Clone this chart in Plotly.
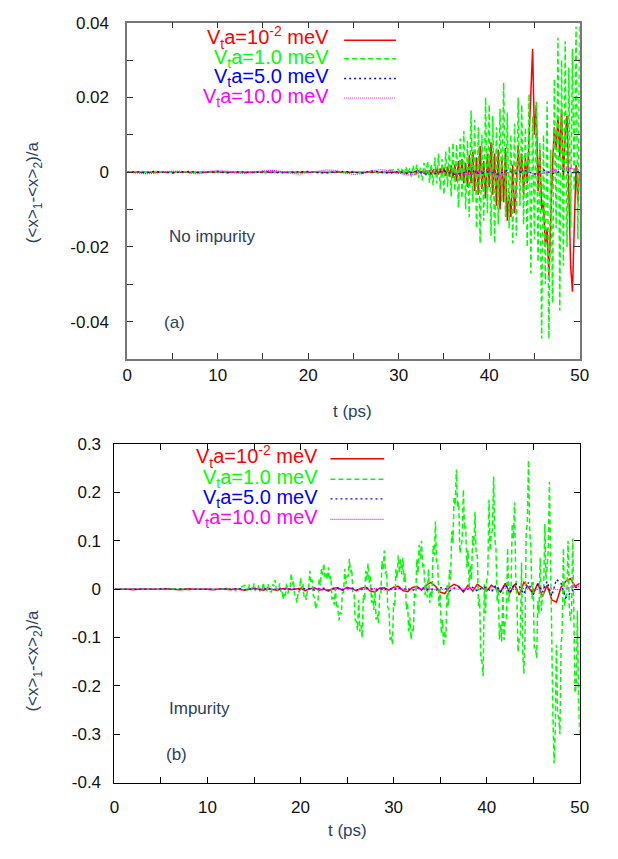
import numpy as np
import plotly.graph_objects as go

W, H = 618, 859
FONT = "Liberation Sans, Arial, sans-serif"

# ---------------- panel (a): no impurity ----------------
t_a_quiet = np.arange(0, 30, 1.0)                      # 0 .. 29 ps
t_a_active = np.round(np.arange(30, 50.001, 0.2), 2)    # 30 .. 50 ps
t_a_coarse = np.arange(0, 51, 1.0)                      # 0 .. 50 ps

red_a_quiet = [0, 0, 0.0001, 0, -0.0001, 0, 0.0001, 0, 0, -0.0001,
               0, 0.0001, 0, 0, -0.0001, 0, 0.0001, 0, 0, 0.0001,
               0, -0.0001, 0, 0.0001, 0, -0.0001, 0.0001, 0, -0.0001, 0.0001]
red_a_active = [0, 0.0001, -0.0001, 0.0001, 0, -0.0002, 0.0001, 0, -0.0001, 0.0002,
                -0.0002, 0.0003, -0.0001, 0.0002, -0.0003, 0.0004, -0.0002, 0.0003, -0.0004, 0.0005,
                -0.0005, 0.0008, -0.0006, 0.0010, -0.0008, 0.0012, -0.0010, 0.0015, -0.0012, 0.0018,
                -0.0015, 0.0020, -0.0025, 0.0030, -0.0020, 0.0035, -0.0030, 0.0025, -0.0040, 0.0045,
                -0.0030, 0.0055, -0.0050, 0.0040, -0.0060, 0.0070, -0.0045, 0.0030, -0.0070, 0.0050,
                -0.0040, 0.0080, -0.0060, 0.0050, -0.0090, 0.0060, -0.0100, 0.0040, -0.0080, 0.0065,
                -0.0130, -0.0060, -0.0120, 0.0020, -0.0110, -0.0040, 0.0070, -0.0020, 0.0050, -0.0060,
                0.0040, -0.0030, 0.0080, 0.0200, 0.0330, 0.0100, 0.0180, -0.0050, 0.0060, -0.0100,
                -0.0080, -0.0200, -0.0150, -0.0280, -0.0100, 0.0020, 0.0120, 0.0060, 0.0150, 0.0040,
                0.0170, -0.0020, 0.0100, 0.0150, -0.0050, -0.0250, -0.0320, -0.0150, 0.0020, -0.0080,
                0.0000]

green_a_quiet = [0, 0.0001, -0.0001, 0.0001, 0, -0.0001, 0.0001, 0, -0.0001, 0.0001,
                 0, 0.0001, -0.0001, 0, 0.0001, -0.0001, 0, 0.0001, 0, -0.0001,
                 0.0001, 0, -0.0002, 0.0002, -0.0001, 0.0002, -0.0003, 0.0003, -0.0004, 0.0005]
green_a_active = [0.0008, -0.0006, 0.0012, -0.0009, 0.0015, -0.0004, 0.0010, -0.0012, 0.0018, -0.0008,
                  0.0020, -0.0015, 0.0012, -0.0022, 0.0025, -0.0010, 0.0030, -0.0028, 0.0022, -0.0035,
                  0.0040, -0.0030, 0.0050, -0.0045, 0.0035, -0.0060, 0.0055, -0.0040, 0.0070, -0.0065,
                  0.0080, -0.0050, 0.0075, -0.0095, 0.0090, -0.0070, 0.0110, -0.0100, 0.0085, -0.0120,
                  0.0165, -0.0080, 0.0140, -0.0150, 0.0120, -0.0190, 0.0100, -0.0130, 0.0200, -0.0110,
                  0.0180, -0.0170, 0.0150, -0.0190, 0.0120, -0.0140, 0.0170, -0.0080, 0.0240, -0.0120,
                  0.0160, -0.0150, 0.0100, -0.0190, 0.0130, -0.0170, 0.0200, -0.0090, 0.0180, -0.0140,
                  0.0120, -0.0200, 0.0210, -0.0270, 0.0150, -0.0180, 0.0190, -0.0240, 0.0080, -0.0445,
                  0.0100, -0.0300, 0.0190, -0.0445, 0.0060, -0.0350, 0.0250, -0.0150, 0.0360, -0.0370,
                  0.0300, -0.0250, 0.0350, -0.0200, 0.0280, -0.0150, 0.0330, -0.0050, 0.0390, -0.0180,
                  0.0400]

blue_a = [0, 0.0001, -0.0001, 0.0002, 0, -0.0002, 0.0001, 0.0002, -0.0001, 0,
          0.0002, -0.0002, 0.0001, 0, -0.0001, 0.0002, 0.0001, -0.0002, 0, 0.0001,
          0.0002, -0.0001, -0.0002, 0.0001, 0.0002, 0, -0.0002, 0.0003, 0.0001, -0.0003,
          0.0002, -0.0004, 0.0003, -0.0005, -0.0004, 0.0004, -0.0006, -0.0003, 0.0005, -0.0004,
          0.0002, -0.0006, 0.0005, -0.0003, 0.0004, -0.0005, 0.0006, -0.0004, 0.0003, -0.0002,
          0.0002]

magenta_a = [0, -0.0002, -0.0004, -0.0003, 0.0001, 0.0003, 0.0002, -0.0003, -0.0004, 0.0002,
             0.0004, 0.0003, -0.0002, -0.0004, 0.0001, 0.0004, 0.0005, 0.0002, -0.0003, -0.0005,
             -0.0002, 0.0003, 0.0006, 0.0005, -0.0002, -0.0006, -0.0004, 0.0003, 0.0007, 0.0004,
             -0.0003, -0.0007, -0.0005, 0.0002, 0.0008, 0.0006, -0.0002, -0.0008, -0.0006, 0.0001,
             0.0004, -0.0012, -0.0002, 0.0006, 0.0002, -0.0005, -0.0003, 0.0004, 0.0008, 0.0010,
             0.0006]

# ---------------- panel (b): impurity ----------------
t_b_quiet = np.arange(0, 14, 1.0)                        # 0 .. 13 ps
t_b_active = np.round(np.arange(14, 50.001, 0.125), 3)   # 14 .. 50 ps
t_b_half = np.round(np.arange(0, 50.001, 0.5), 2)        # 0 .. 50 ps
t_b_coarse = np.arange(0, 51, 1.0)

green_b_quiet = [0, 0.0005, -0.0005, 0.001, 0, -0.001, 0.0005, 0.001, -0.001, 0.0005,
                 0.001, -0.0015, 0.002, -0.002]
# one row per ps, eight samples per row
green_b_active = [
    0.008, -0.0035, 0.001, -0.0025, 0.010, -0.002, 0.002, -0.001,
    0.012, -0.002, 0.000, -0.0035, 0.009, -0.0045, -0.002, -0.002,
    0.014, -0.0015, -0.001, -0.003, 0.011, -0.005, -0.005, -0.0055,
    0.010, 0.0065, 0.019, 0.0015, 0.000, -0.002, 0.012, -0.005,
    -0.002, -0.021, -0.008, -0.0135, 0.013, -0.0095, 0.000, 0.0005,
    0.033, 0.0095, 0.018, -0.0165, -0.019, -0.0275, -0.004, -0.0065,
    0.023, 0.0015, 0.012, -0.016, -0.012, -0.022, 0.000, 0.003,
    0.038, 0.013, 0.020, -0.0145, -0.017, -0.0405, -0.032, -0.023,
    0.022, 0.008, 0.042, 0.0295, 0.053, 0.025, 0.032, 0.020,
    0.045, 0.018, 0.027, -0.0195, -0.018, -0.032, 0.002, -0.0395,
    -0.033, -0.0645, -0.048, -0.052, -0.008, -0.007, 0.042, 0.0105,
    0.027, 0.027, 0.063, 0.0345, 0.042, -0.007, -0.008, -0.0645,
    -0.067, -0.085, -0.022, -0.088, -0.075, -0.100, -0.012, -0.023,
    0.038, 0.0185, 0.053, 0.0135, 0.028, -0.028, -0.012, -0.043,
    -0.002, -0.063, -0.052, -0.070, -0.012, -0.013, 0.058, 0.042,
    0.080, 0.032, 0.038, -0.038, -0.042, -0.105, -0.096, -0.114,
    -0.028, -0.037, 0.042, 0.023, 0.070, 0.033, 0.062, 0.0305,
    0.065, 0.0155, 0.032, -0.042, -0.028, -0.087, -0.058, -0.104,
    -0.082, -0.089, -0.008, -0.017, 0.062, 0.033, 0.092, 0.063,
    0.100, 0.043, 0.052, -0.012, 0.012, -0.017, 0.042, -0.0285,
    -0.003, -0.0165, 0.090, 0.070, 0.140, 0.050, 0.050, -0.035,
    0.000, -0.092, -0.064, -0.118, -0.088, -0.099, 0.010, -0.035,
    0.040, 0.020, 0.120, 0.095, 0.190, 0.1735, 0.247, 0.1685,
    0.180, 0.075, 0.090, 0.103, 0.206, 0.123, 0.130, 0.045,
    0.080, 0.005, 0.050, 0.020, 0.110, 0.090, 0.160, 0.070,
    0.070, -0.035, -0.020, -0.145, -0.150, -0.180, 0.010, -0.050,
    0.015, 0.030, 0.185, 0.080, 0.115, 0.1215, 0.233, 0.1065,
    0.085, -0.025, 0.005, -0.104, -0.073, -0.108, -0.005, -0.105,
    -0.065, -0.060, 0.085, -0.025, 0.005, 0.000, 0.135, 0.105,
    0.180, 0.030, -0.015, -0.130, -0.105, -0.095, 0.055, -0.130,
    -0.175, -0.100, 0.115, 0.138, 0.267, 0.123, 0.085, -0.020,
    0.015, -0.122, -0.120, -0.142, -0.025, -0.050, 0.065, -0.045,
    -0.015, -0.010, 0.135, 0.020, 0.045, 0.081, 0.222, 0.026,
    -0.065, -0.265, -0.360, -0.290, -0.115, -0.260, -0.265, -0.300,
    -0.115, -0.085, 0.085, -0.035, -0.015, -0.010, 0.100, -0.035,
    -0.065, -0.050, 0.105, -0.125, -0.215, -0.200, -0.045, -0.225,
    -0.300]

red_b = [0, 0, 0.001, 0, -0.001, 0, 0.001, 0, 0, -0.001,
         0, 0.001, 0, 0, -0.001, 0, 0.001, 0, 0, 0.001,
         0, -0.001, 0, 0.001, 0, -0.001, 0.001, 0, -0.002, 0,
         0.002, 0, -0.002, 0.001, 0, -0.002, 0.001, 0.002, -0.001, 0,
         0.002, -0.003, 0.001, 0.003, -0.002, 0, -0.004, 0.002, 0.003, -0.002,
         0.004, 0.001, -0.003, 0.002, 0.004, -0.004, -0.006, 0.002, 0.003, -0.002,
         0.004, 0.006, -0.003, -0.005, 0.003, 0.006, -0.002, 0.008, 0.014, 0.006,
         -0.006, -0.009, 0.004, 0.010, 0.006, -0.006, 0.008, -0.004, 0.010, 0.003,
         -0.004, 0.008, 0.002, -0.006, 0.012, -0.008, 0.010, -0.012, 0.014, 0.004,
         -0.010, 0.012, -0.015, 0.008, -0.022, -0.027, 0.004, 0.016, 0.022, 0.006,
         0.012]

blue_b = [0, 0.0005, 0, -0.0005, 0.0005, 0, -0.0005, 0, 0.0005, -0.0005,
          0, 0.0005, -0.0005, 0, 0.0005, 0, -0.0005, 0.0005, 0, -0.0005,
          0.0005, 0, -0.001, 0.0005, 0.001, -0.0005, 0, 0.001, -0.001, 0.0005,
          0.001, -0.001, 0, 0.0015, -0.001, 0.0005, 0.001, -0.0015, 0.001, 0,
          -0.001, 0.0015, 0.001, -0.002, 0.001, 0.002, -0.0015, 0, 0.002, -0.002,
          0.001, 0.002, -0.001, -0.002, 0.0025, 0.001, -0.002, 0.002, -0.001, 0.0015,
          -0.002, 0.003, -0.001, 0.002, -0.003, 0.002, 0.003, -0.002, 0.001, -0.003,
          0.003, 0.002, -0.004, 0.002, 0.004, -0.003, 0.001, 0.004, -0.004, 0.003,
          0.004, -0.006, 0.008, -0.005, 0.010, -0.008, 0.012, 0.006, -0.010, 0.014,
          -0.012, 0.010, -0.006, 0.016, -0.014, 0.020, 0.012, -0.018, -0.008, 0.004,
          0.002]

magenta_b = [0, 0.0005, -0.0005, 0.001, 0, -0.0005, 0.0005, 0, -0.001, 0.0005,
             0.001, -0.0005, 0, 0.0005, -0.001, 0.0005, 0.001, -0.0005, 0, 0.001,
             -0.001, 0.0005, 0.001, -0.001, 0, 0.0015, -0.001, 0.0005, 0.001, -0.0015,
             0.001, 0, -0.001, 0.0015, 0.0005, -0.001, 0.001, -0.0005, 0.0015, -0.001,
             0.001, -0.0015, 0.002, -0.001, 0.0015, -0.002, 0.001, 0.0005, -0.002, 0.004,
             0.006]

legend_labels = ["V<sub>t</sub>a=10<sup>-2</sup> meV", "V<sub>t</sub>a=1.0 meV",
                 "V<sub>t</sub>a=5.0 meV", "V<sub>t</sub>a=10.0 meV"]
colors = ["#ff0000", "#00ff00", "#0000ff", "#ff00ff"]
dashes = ["solid", "5px,3px", "2px,3px", "1px,1px"]
widths = [1.5, 1.5, 1.4, 1.2]


def px(x):
    return x / W


def py(y):
    return 1 - y / H


fig = go.Figure()

series_a = [
    (np.concatenate([t_a_quiet, t_a_active]), red_a_quiet + red_a_active),
    (np.concatenate([t_a_quiet, t_a_active]), green_a_quiet + green_a_active),
    (t_a_coarse, blue_a),
    (t_a_coarse, magenta_a),
]
series_b = [
    (t_b_half, red_b),
    (np.concatenate([t_b_quiet, t_b_active]), green_b_quiet + green_b_active),
    (t_b_half, blue_b),
    (t_b_coarse, magenta_b),
]

for i, (t, v) in enumerate(series_a):
    fig.add_trace(go.Scatter(x=t, y=v, mode="lines", xaxis="x", yaxis="y", showlegend=False,
                             line=dict(color=colors[i], dash=dashes[i], width=widths[i])))
for i, (t, v) in enumerate(series_b):
    fig.add_trace(go.Scatter(x=t, y=v, mode="lines", xaxis="x2", yaxis="y2", showlegend=False,
                             line=dict(color=colors[i], dash=dashes[i], width=widths[i])))

x_ticks = list(range(0, 51, 5))
x_text = [str(v) if v % 10 == 0 else "" for v in x_ticks]

ya_ticks = [-0.05, -0.04, -0.03, -0.02, -0.01, 0, 0.01, 0.02, 0.03, 0.04]
ya_text = ["", "-0.04", "", "-0.02", "", "0", "", "0.02", "", "0.04"]
yb_ticks = [-0.4, -0.3, -0.2, -0.1, 0, 0.1, 0.2, 0.3]
yb_text = ["-0.4", "-0.3", "-0.2", "-0.1", "0", "0.1", "0.2", "0.3"]

axis_common = dict(showgrid=False, zeroline=False, showline=True, mirror="ticks",
                   ticks="inside", ticklen=6, tickfont=dict(family=FONT, size=17, color="#111"))

fig.update_layout(
    width=W, height=H,
    margin=dict(l=0, r=0, t=0, b=0),
    paper_bgcolor="white", plot_bgcolor="white",
    xaxis=dict(domain=[px(125), px(588)], range=[0, 50], anchor="y",
               tickvals=x_ticks, ticktext=x_text, linecolor="#777", linewidth=1.5,
               tickcolor="#333", ticklabelstandoff=0, **axis_common),
    yaxis=dict(domain=[py(358), py(14)], range=[-0.05, 0.04], anchor="x",
               tickvals=ya_ticks, ticktext=ya_text, linecolor="#777", linewidth=1.5,
               tickcolor="#333", ticklabelstandoff=13, **axis_common),
    xaxis2=dict(domain=[px(112), px(588)], range=[0, 50], anchor="y2",
                tickvals=x_ticks, ticktext=x_text, linecolor="#000", linewidth=1,
                tickcolor="#000", ticklabelstandoff=9, **axis_common),
    yaxis2=dict(domain=[py(791), py(445)], range=[-0.4, 0.3], anchor="x2",
                tickvals=yb_ticks, ticktext=yb_text, linecolor="#000", linewidth=1,
                tickcolor="#000", ticklabelstandoff=9, **axis_common),
)

annotations = []
ytitle = "(&lt;x&gt;<sub>1</sub>-&lt;x&gt;<sub>2</sub>)/a"
for yc in (187, 666):
    annotations.append(dict(x=px(30), y=py(yc), xref="paper", yref="paper", text=ytitle,
                            textangle=-90, xanchor="center", yanchor="middle",
                            showarrow=False, font=dict(family=FONT, size=17)))
for xc, yc in ((356, 412), (350, 840)):
    annotations.append(dict(x=px(xc), y=py(yc), xref="paper", yref="paper", text="t (ps)",
                            xanchor="center", yanchor="middle",
                            showarrow=False, font=dict(family=FONT, size=17)))
for txt, x0, yc in (("No impurity", 166, 233), ("(a)", 161, 321),
                    ("Impurity", 166, 715), ("(b)", 163, 762)):
    annotations.append(dict(x=px(x0), y=py(yc), xref="paper", yref="paper", text=txt,
                            xanchor="left", yanchor="middle",
                            showarrow=False, font=dict(family=FONT, size=17)))

# key: right-aligned text followed by a line sample, as in gnuplot
# rows given by text baseline; every label has a subscript so bottom-anchoring keeps baselines aligned
shapes = []
for rows, text_right, lx0, lx1 in (((37, 56, 76, 96), 333, 347, 400),
                                   ((465, 486, 506, 527), 321, 333, 388)):
    for i, base in enumerate(rows):
        annotations.append(dict(x=px(text_right), y=py(base + 8), xref="paper", yref="paper",
                                text=legend_labels[i], xanchor="right", yanchor="bottom",
                                showarrow=False, borderpad=0,
                                font=dict(family=FONT, size=20, color=colors[i])))
        shapes.append(dict(type="line", xref="paper", yref="paper",
                           x0=px(lx0), x1=px(lx1), y0=py(base - 5), y1=py(base - 5),
                           line=dict(color=colors[i], dash=dashes[i], width=widths[i])))

fig.update_layout(annotations=annotations, shapes=shapes)

# the page body margin would shift the figure; remove it
fig.write_html("out.html", config={"displayModeBar": False},
               post_script="document.body.style.margin='0';")
